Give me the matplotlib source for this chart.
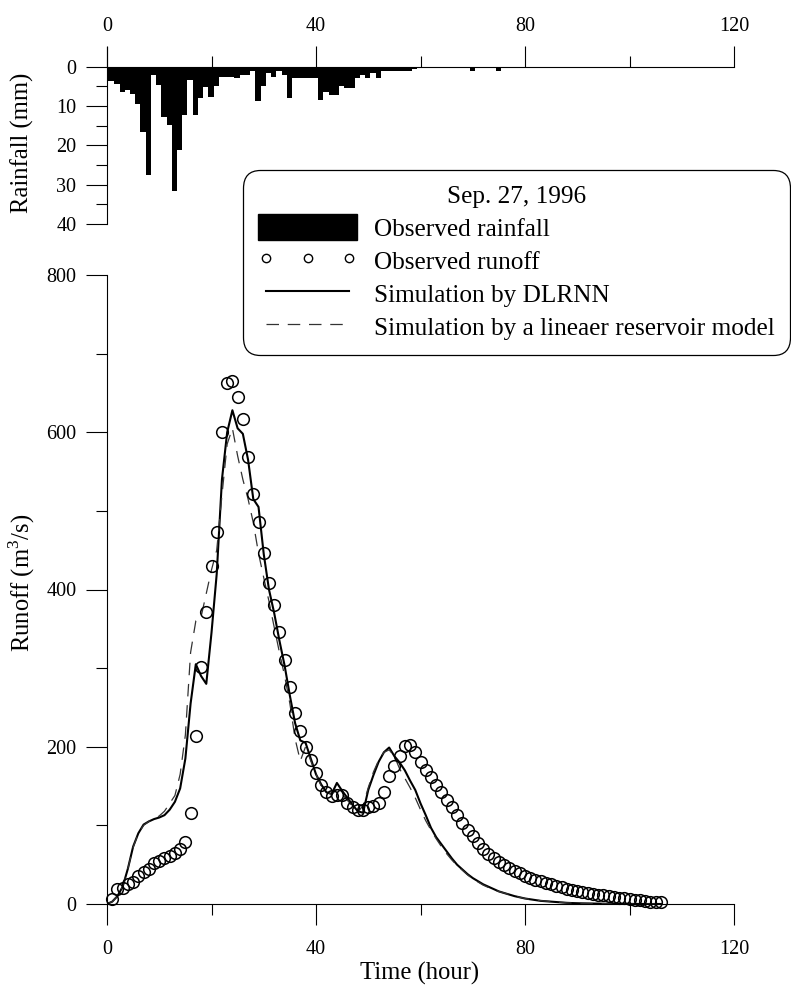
import numpy as np
import matplotlib
matplotlib.use("Agg")
from matplotlib import pyplot as plt
from matplotlib.patches import Patch
from matplotlib.lines import Line2D

plt.rcParams['font.family'] = ['Liberation Serif', 'DejaVu Serif']
plt.rcParams['mathtext.fontset'] = 'custom'
plt.rcParams['mathtext.rm'] = 'Liberation Serif'

# hourly rainfall (mm), hour index 0..75
rain_hour = np.arange(0, 76)
rain_mm = [3.7, 3.7, 4.5, 6.5, 6.0, 7.0, 9.5, 16.5, 27.5, 2.0,
           4.6, 12.7, 14.8, 31.5, 21.3, 12.2, 3.5, 12.2, 8.0, 5.2,
           7.6, 5.0, 2.6, 2.6, 2.6, 2.9, 2.0, 2.0, 1.2, 8.8,
           5.0, 1.6, 2.6, 1.2, 2.0, 8.0, 3.0, 2.8, 2.8, 2.8,
           3.0, 8.4, 6.5, 7.1, 7.2, 4.8, 5.4, 5.4, 3.0, 2.2,
           3.0, 1.6, 2.8, 1.0, 1.0, 1.0, 1.0, 1.0, 1.0, 0.6,
           0, 0, 0, 0, 0, 0, 0, 0, 0, 0,
           1.0, 0, 0, 0, 0, 1.0]

# observed runoff (m3/s), t = 1..106 h
obs_hour = np.arange(1, 107)
obs_q = [6, 19, 20, 25, 28, 36, 41, 45, 52, 55,
         58, 61, 65, 70, 79, 116, 214, 301, 371, 430,
         473, 600, 663, 665, 645, 617, 569, 522, 486, 446,
         408, 380, 346, 310, 276, 243, 220, 200, 183, 166,
         151, 143, 137, 139, 138, 129, 124, 120, 120, 124,
         125, 128, 142, 163, 176, 188, 201, 202, 193, 181,
         170, 161, 151, 142, 132, 124, 113, 103, 94, 87,
         78, 70, 64, 59, 54, 50, 46, 42, 39, 36,
         33, 31, 29, 27, 25, 23, 21, 19, 18, 16,
         15, 14, 13, 12, 11, 10, 9, 8, 7, 6,
         5, 4.5, 4, 3, 2.5, 2]

# simulations, t = 0..106 h
sim_hour = np.arange(0, 107)
dlrnn_q = [0, 3, 10, 22, 45, 73, 90, 101, 105, 108,
           110, 113, 120, 130, 147, 185, 255, 305, 290, 280,
           345, 420, 540, 600, 628, 605, 598, 565, 515, 505,
           445, 400, 370, 335, 303, 265, 230, 208, 205, 185,
           165, 152, 142, 140, 154, 144, 135, 126, 118, 116,
           145, 164, 181, 193, 199, 188, 180, 170, 157, 145,
           128, 113, 97, 85, 76, 67, 58, 50, 44, 38,
           33, 29, 25, 22, 19, 16, 14, 12, 10, 8.5,
           7, 6, 5, 4, 3.5, 3, 2.5, 2, 1.5, 1.2,
           1, 0.8, 0.7, 0.6, 0.5, 0.4, 0.3, 0.3, 0.2, 0.2,
           0.1, 0.1, 0.1, 0, 0, 0, 0]
linear_q = [0, 3, 10, 22, 45, 72, 90, 100, 105, 108,
            112, 118, 128, 138, 165, 215, 320, 360, 365, 395,
            425, 450, 520, 585, 605, 570, 540, 515, 485, 446,
            415, 385, 352, 320, 290, 255, 210, 182, 200, 182,
            165, 150, 143, 139, 146, 140, 132, 124, 117, 125,
            148, 168, 183, 193, 196, 188, 172, 160, 148, 135,
            120, 106, 94, 83, 73, 64, 56, 49, 43, 37,
            32, 28, 24, 21, 18, 16, 14, 12, 10, 8.5,
            7, 6, 5, 4.3, 3.6, 3, 2.5, 2, 1.6, 1.3,
            1, 0.8, 0.7, 0.6, 0.5, 0.4, 0.3, 0.3, 0.2, 0.2,
            0.1, 0.1, 0.1, 0, 0, 0, 0]

W, H = 791, 989
fig = plt.figure(figsize=(W / 100, H / 100), dpi=100)
ax_r = fig.add_axes([107 / W, 1 - 224 / H, 627 / W, 177 / H])
ax_q = fig.add_axes([107 / W, 85 / H, 627 / W, 629 / H])

tick_fs = 14.5
lab_fs = 17.7
leg_fs = 18.2

# rainfall hyetograph (hanging bars)
ax_r.bar(rain_hour - 0.6, rain_mm, width=1.0, align='edge', color='black', linewidth=0)
ax_r.set_xlim(0, 120)
ax_r.set_ylim(40, -5)
ax_r.spines['right'].set_visible(False)
ax_r.spines['bottom'].set_visible(False)
ax_r.spines['top'].set_position(('data', 0))
ax_r.xaxis.tick_top()
ax_r.set_xticks([0, 40, 80, 120])
ax_r.set_xticks([20, 60, 100], minor=True)
ax_r.set_yticks([0, 10, 20, 30, 40])
ax_r.set_yticks([5, 15, 25, 35], minor=True)

# runoff hydrograph
ax_q.plot(sim_hour, dlrnn_q, color='black', lw=1.5)
ax_q.plot(sim_hour, linear_q, color='#333333', lw=0.9, dashes=(10, 7))
ax_q.plot(obs_hour, obs_q, 'o', mfc='none', mec='black', ms=8.4, mew=1.1, clip_on=False)
ax_q.set_xlim(0, 120)
ax_q.set_ylim(0, 800)
ax_q.spines['right'].set_visible(False)
ax_q.spines['top'].set_visible(False)
ax_q.set_xticks([0, 40, 80, 120])
ax_q.set_xticks([20, 60, 100], minor=True)
ax_q.set_yticks([0, 200, 400, 600, 800])
ax_q.set_yticks([100, 300, 500, 700], minor=True)

for ax in (ax_r, ax_q):
    for s in ax.spines.values():
        s.set_linewidth(0.8)
    ax.tick_params(which='major', direction='out', length=15, width=0.8,
                   labelsize=tick_fs, pad=7)
    ax.tick_params(which='minor', direction='out', length=8, width=0.8)
ax_q.tick_params(axis='x', which='major', pad=11)

fig.text(22 / W, 1 - 143 / H, 'Rainfall (mm)', rotation=90, ha='center', va='center', fontsize=lab_fs)
fig.text(22 / W, 1 - 583 / H, r'Runoff (m$^{3}$/s)', rotation=90, ha='center', va='center', fontsize=lab_fs)
fig.text(420 / W, 1 - 973 / H, 'Time (hour)', ha='center', va='center', fontsize=lab_fs)

handles = [Patch(facecolor='black', edgecolor='black'),
           Line2D([], [], ls='none', marker='o', mfc='none', mec='black', ms=6, mew=1.0),
           Line2D([], [], color='black', lw=1.5),
           Line2D([], [], color='#333333', lw=0.9, dashes=(10, 7))]
labels = ['Observed rainfall', 'Observed runoff', 'Simulation by DLRNN',
          'Simulation by a lineaer reservoir model']
leg = fig.legend(handles, labels, title='Sep. 27, 1996', loc='upper right',
                 bbox_to_anchor=(0.999, 1 - 170 / H), fontsize=leg_fs, title_fontsize=leg_fs,
                 handlelength=3.9, handleheight=1.22, numpoints=3, fancybox=True,
                 framealpha=1, edgecolor='black', borderpad=0.62, labelspacing=0.25,
                 handletextpad=0.67, borderaxespad=0)
leg.get_frame().set_linewidth(0.9)
leg.get_frame().set_boxstyle('round,pad=0,rounding_size=0.7')

fig.savefig('out.png', dpi=100)
